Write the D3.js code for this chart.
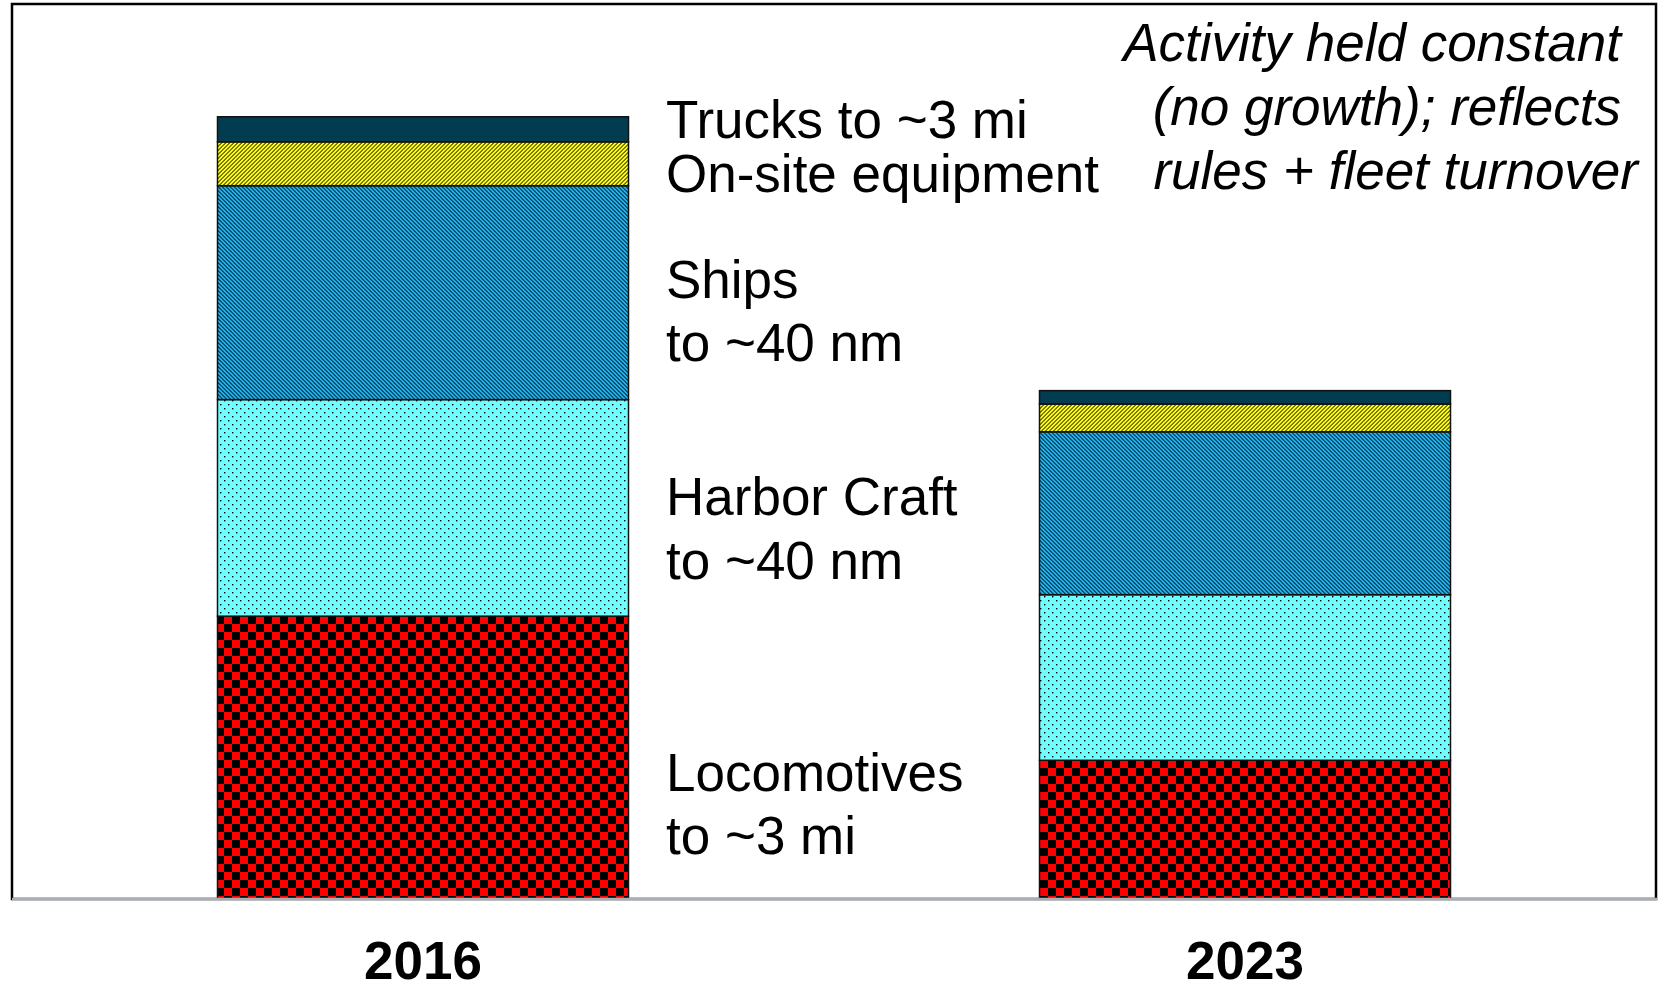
<!DOCTYPE html>
<html>
<head>
<meta charset="utf-8">
<title>Port emissions 2016 vs 2023</title>
<script src="https://d3js.org/d3.v7.min.js"></script>
<style>
  body { margin: 0; background: #fff; }
  svg { display: block; }
  text { font-family: "Liberation Sans", Arial, sans-serif; fill: #000; }
</style>
</head>
<body>
<div id="chart"></div>
<script>
// data (arbitrary units, stacked bottom -> top)
const years = ['2016', '2023'];
const sources = ['loco', 'harbor', 'ships', 'onsite', 'trucks'];
const loco   = [31.6, 15.5];
const harbor = [24.2, 18.5];
const ships  = [23.9, 18.2];
const onsite = [4.9, 3.1];
const trucks = [2.8, 1.5];
const sourceLabels = [
  ['Locomotives', 'to ~3 mi'],
  ['Harbor Craft', 'to ~40 nm'],
  ['Ships', 'to ~40 nm'],
  ['On-site equipment'],
  ['Trucks to ~3 mi']
];
const note = ['Activity held constant', '(no growth); reflects', 'rules + fleet turnover'];

const W = 1663, H = 984;
const frameL = 12, frameR = 1656, frameT = 4, base = 899;

const svg = d3.select('#chart').append('svg').attr('width', W).attr('height', H);
const defs = svg.append('defs');

function newPattern(id, size, bg) {
  const p = defs.append('pattern').attr('id', id).attr('patternUnits', 'userSpaceOnUse')
    .attr('width', size).attr('height', size);
  p.append('rect').attr('width', size).attr('height', size).attr('fill', bg);
  return p;
}
// diagonal stripes, 4px period
const sw = 1.1;
newPattern('p-onsite', 4, '#ffff00').append('path').attr('fill', '#000')
  .attr('d', `M0,0H${sw}L0,${sw}Z M4,0V${sw}L${sw},4H0Z`);
newPattern('p-ships', 4, '#20b2ee').append('path').attr('fill', '#000')
  .attr('d', `M4,0H${4 - sw}L4,${sw}Z M0,0V${sw}L${4 - sw},4H4Z`);
// dots
const dots = newPattern('p-harbor', 8, '#70ffff');
[[0, 0], [4, 4]].forEach(p => dots.append('rect').attr('x', p[0]).attr('y', p[1])
  .attr('width', 1.4).attr('height', 1.4).attr('fill', '#000'));
// checkerboard
const chk = newPattern('p-loco', 16, '#ff0000');
[[0, 0], [8, 8]].forEach(p => chk.append('rect').attr('x', p[0]).attr('y', p[1])
  .attr('width', 8).attr('height', 8).attr('fill', '#000').attr('shape-rendering', 'crispEdges'));

const fills = {
  loco: 'url(#p-loco)', harbor: 'url(#p-harbor)', ships: 'url(#p-ships)',
  onsite: 'url(#p-onsite)', trucks: '#023c51'
};

const table = years.map((yr, i) => ({
  year: yr, loco: loco[i], harbor: harbor[i], ships: ships[i], onsite: onsite[i], trucks: trucks[i]
}));
const stacked = d3.stack().keys(sources)(table);

const x = d3.scaleBand().domain(years).range([frameL, frameR]).paddingInner(0.5).paddingOuter(0.25);
const y = d3.scaleLinear().domain([0, 100]).range([base, frameT]);

// frame
svg.append('rect').attr('x', frameL).attr('y', frameT).attr('width', frameR - frameL).attr('height', base - frameT)
  .attr('fill', 'none').attr('stroke', '#000').attr('stroke-width', 2.5);

// bars
svg.selectAll('g.layer').data(stacked).enter().append('g').attr('class', 'layer')
  .attr('fill', d => fills[d.key])
  .selectAll('rect').data(d => d).enter().append('rect')
  .attr('x', d => x(d.data.year))
  .attr('y', d => y(d[1]))
  .attr('width', x.bandwidth())
  .attr('height', d => y(d[0]) - y(d[1]))
  .attr('stroke', '#111').attr('stroke-width', 1.5);

// base line
svg.append('line').attr('x1', frameL).attr('x2', frameR + 1).attr('y1', base).attr('y2', base)
  .attr('stroke', '#a8aeb4').attr('stroke-width', 2.5);

// x axis labels
const xAxis = d3.axisBottom(x).tickSize(0).tickPadding(0);
const gx = svg.append('g').attr('transform', 'translate(0,' + base + ')').call(xAxis);
gx.select('.domain').remove();
gx.selectAll('text').attr('dy', null).attr('y', 80)
  .style('font-family', '"Liberation Sans", Arial, sans-serif')
  .style('font-size', '53px').style('font-weight', 'bold').attr('fill', '#000');

// source labels beside the 2016 bar
const labelX = 666;
const labelY = [791, 515, 298, 192, 138];
const lineGap = [63, 64, 63, 0, 0];
sourceLabels.forEach((lines, i) => {
  const t = svg.append('text').attr('x', labelX).attr('y', labelY[i]).style('font-size', '53px');
  lines.forEach((s, j) => {
    t.append('tspan').attr('x', labelX).attr('y', labelY[i] + j * lineGap[i]).text(s);
  });
});

// note, top right
const noteEnd = [1621, 1621, 1638];
note.forEach((s, i) => {
  svg.append('text').attr('x', noteEnd[i]).attr('y', 61 + i * 64)
    .attr('text-anchor', 'end').style('font-size', '53px').style('font-style', 'italic').text(s);
});
</script>
</body>
</html>
